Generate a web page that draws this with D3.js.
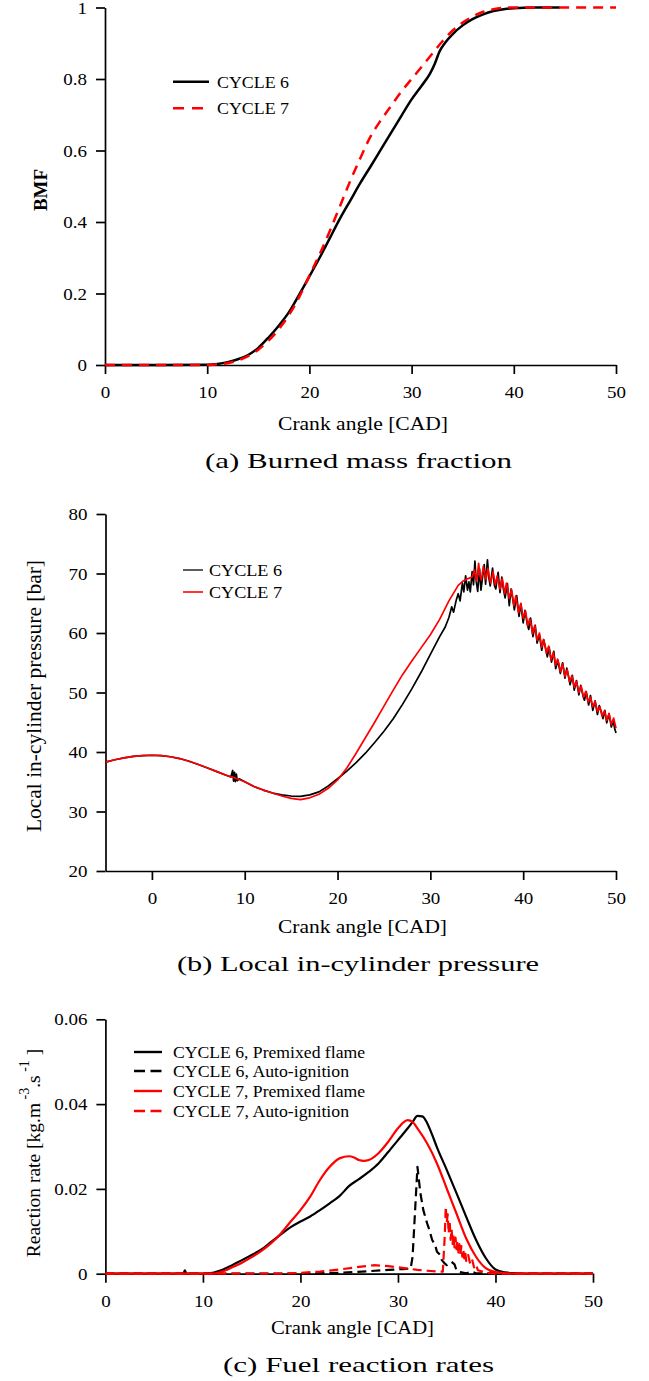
<!DOCTYPE html>
<html><head><meta charset="utf-8">
<script src="https://cdn.jsdelivr.net/npm/d3@7"></script>
<style>html,body{margin:0;padding:0;background:#fff;}svg{display:block;}</style>
</head><body>
<script>
// ---------- DATA ----------
// (a) Burned mass fraction  [crank angle, BMF]
const bmfCycle6 = [[0,0],[5,0],[10,0.001],[11,0.003],[12,0.008],[13,0.016],[14,0.028],[15,0.048],[16,0.077],[17,0.11],[18,0.148],[19,0.197],[20,0.248],[21,0.3],[22,0.355],[23,0.41],[24,0.46],[25,0.51],[26,0.556],[27,0.603],[28,0.65],[29,0.697],[30,0.743],[31,0.782],[31.8,0.815],[32.3,0.845],[32.7,0.875],[33.3,0.902],[34,0.925],[35,0.95],[36,0.968],[37,0.981],[38,0.99],[39,0.995],[40,0.998],[42,1],[44.5,1]];
const bmfCycle7 = [[0,0],[10,0],[11,0.002],[12,0.005],[13,0.013],[14,0.025],[15,0.043],[16,0.068],[17,0.1],[18,0.14],[19,0.19],[20,0.25],[21,0.31],[22,0.375],[23,0.445],[24,0.515],[25,0.58],[26,0.64],[27,0.685],[28,0.725],[29,0.765],[30,0.8],[31,0.835],[32,0.87],[33,0.905],[34,0.935],[35,0.958],[36,0.975],[37,0.988],[38,0.995],[39,0.999],[40,1],[50,1]];
const bmfXTicks = [0,10,20,30,40,50];
const bmfXLabels = ["0","10","20","30","40","50"];
const bmfYTicks = [0,0.2,0.4,0.6,0.8,1];
const bmfYLabels = ["0","0.2","0.4","0.6","0.8","1"];

// (b) Local in-cylinder pressure [crank angle, bar]
const pressureCycle6 = [[-5,38.3],[-4,38.7],[-3,39.0],[-2,39.25],[-1,39.4],[0,39.45],[1,39.4],[2,39.2],[3,38.9],[4,38.45],[5,37.9],[6,37.3],[7,36.7],[8,36.1],[8.5,35.8],[8.7,36.9],[8.8,35.1],[8.9,36.6],[9.0,35.0],[9.1,36.3],[9.2,35.2],[9.4,35.5],[10,35.0],[11,34.2],[12,33.6],[13,33.1],[14,32.8],[15,32.6],[16,32.55],[17,32.8],[18,33.3],[19,34.3],[20,35.5],[21,36.8],[22,38.2],[23,39.8],[24,41.6],[25,43.5],[26,45.6],[27,48.0],[28,50.6],[29,53.4],[30,56.4],[31,59.4],[31.6,61.0],[32,62.6],[32.3,64.4],[32.5,63.5],[32.8,65.6],
[33.0,66.6],[33.2,65.4],[33.45,68.4],[33.6,66.9],[33.8,69.6],[34.0,67.2],[34.15,68.6],[34.3,66.9],[34.5,70.3],[34.65,68.1],[34.8,72.1],[34.95,68.6],[35.1,67.0],[35.3,70.8],[35.45,67.2],[35.6,69.1],[35.8,71.5],[35.95,68.2],[36.15,72.3],[36.3,69.3],[36.45,67.9],[36.7,70.9],[36.9,68.0],[37.05,67.4],[37.3,70.2],[37.5,66.8],[37.7,69.4],[37.85,67.6],[38.05,65.9],[38.3,68.3],[38.5,64.6],[38.7,67.4],[38.9,65.5],[39.05,63.9],[39.3,66.3],[39.55,62.8],[39.75,64.9],[40,61.7],[40.2,63.8],[40.45,61.4],[40.6,60.6],[40.8,62.5],[41.05,59.4],[41.3,61.3],[41.5,58.3],[41.75,59.7],[42,57.1],[42.2,58.9],[42.45,57.2],[42.6,56.0],[42.8,57.6],[43.05,55.1],[43.3,56.9],[43.5,54.0],[43.75,55.4],[44,53.2],[44.25,55.0],[44.5,52.4],[44.7,54.1],[44.9,52.6],[45.05,51.3],[45.3,52.9],[45.5,50.4],[45.75,52.0],[46,49.6],[46.2,51.2],[46.45,49.4],[46.6,48.7],[46.8,50.1],[47.05,47.9],[47.25,49.5],[47.5,47.0],[47.75,48.6],[48,46.3],[48.2,47.8],[48.45,46.6],[48.6,45.6],[48.8,47.0],[49,44.9],[49.25,46.4],[49.5,44.2],[49.7,45.3],[49.85,44.0],[50,43.2]];
const pressureCycle7 = [[-5,38.3],[-4,38.7],[-3,39.0],[-2,39.25],[-1,39.4],[0,39.45],[1,39.4],[2,39.2],[3,38.9],[4,38.45],[5,37.9],[6,37.3],[7,36.7],[8,36.1],[9,35.6],[10,35.0],[11,34.2],[12,33.6],[13,33.1],[14,32.6],[15,32.2],[16,32.0],[17,32.3],[18,32.9],[19,33.9],[20,35.3],[21,37.3],[22,39.8],[23,42.4],[24,45.0],[25,47.7],[26,50.4],[27,53.0],[28,55.3],[29,57.5],[30,59.7],[31,62.3],[32,65.4],[33,68.0],[33.5,68.7],[34,69.1],[34.5,69.4],
[34.75,70.6],[34.9,69.4],[35,68.7],[35.2,71.7],[35.35,69.6],[35.5,68.9],[35.7,71.2],[35.85,70.1],[36,69.0],[36.2,70.9],[36.35,69.4],[36.5,68.4],[36.75,70.3],[37,68.1],[37.2,69.6],[37.35,68.5],[37.5,67.4],[37.75,69.2],[38,66.6],[38.2,68.4],[38.35,67.2],[38.5,65.8],[38.75,67.3],[39,64.6],[39.2,66.2],[39.35,64.9],[39.5,63.4],[39.75,65.0],[40,62.5],[40.25,63.7],[40.5,61.2],[40.7,62.4],[40.85,61.5],[41,59.9],[41.25,61.3],[41.5,58.8],[41.75,60.0],[42,57.6],[42.2,58.9],[42.35,57.9],[42.5,56.6],[42.75,57.8],[43,55.5],[43.25,56.7],[43.5,54.6],[43.7,55.6],[43.85,54.8],[44,53.5],[44.25,54.8],[44.5,52.7],[44.75,53.8],[45,51.8],[45.25,52.8],[45.5,50.9],[45.7,51.9],[45.85,51.1],[46,50.0],[46.25,51.1],[46.5,49.2],[46.75,50.2],[47,48.4],[47.25,49.2],[47.5,47.6],[47.75,48.5],[48,46.8],[48.25,47.6],[48.5,46.0],[48.75,46.9],[49,45.3],[49.25,46.5],[49.5,44.6],[49.75,45.7],[50,44.0]];
const pressureXTicks = [0,10,20,30,40,50];
const pressureXLabels = ["0","10","20","30","40","50"];
const pressureYTicks = [20,30,40,50,60,70,80];
const pressureYLabels = ["20","30","40","50","60","70","80"];

// (c) Fuel reaction rates [crank angle, kg/m3/s]
const rateCycle6Premixed = [[0,0],[8,0],[8.15,0.0008],[8.3,0],[10,0],[11,0.0002],[12,0.0009],[13,0.002],[14,0.0032],[15,0.0044],[16,0.0057],[17,0.0075],[18,0.0093],[19,0.011],[20,0.0123],[21,0.0135],[22,0.015],[23,0.0166],[24,0.0183],[25,0.0207],[26,0.0223],[27,0.024],[28,0.026],[29,0.0287],[30,0.0315],[31,0.0343],[31.5,0.0358],[32,0.0372],[32.5,0.0371],[33,0.0355],[33.5,0.0328],[34,0.0298],[35,0.0245],[36,0.019],[37,0.0134],[38,0.008],[39,0.0037],[40,0.001],[41,0.0003],[42,0.0001],[43,0],[50,0]];
const rateCycle6Auto = [[0,0],[20,0],[24,0.0002],[27,0.0006],[29,0.0009],[30.5,0.0011],[31.3,0.0012],[31.5,0.004],[32,0.0252],[32.3,0.019],[32.6,0.015],[33,0.0118],[33.2,0.0105],[33.5,0.008],[33.8,0.0068],[34,0.0052],[34.3,0.0045],[34.5,0.0032],[34.8,0.0024],[35,0.002],[35.5,0.0028],[35.8,0.0022],[36,0.0008],[36.5,0.0003],[37,0.0001],[37.5,0.0005],[38,0.0001],[39.3,0.0001],[39.6,0.0005],[40,0],[50,0]];
const rateCycle7Premixed = [[0,0],[11,0],[12,0.0005],[13,0.0015],[14,0.0026],[15,0.0039],[16,0.0054],[17,0.0072],[18,0.0095],[19,0.0123],[20,0.015],[21,0.0182],[22,0.0221],[23,0.0252],[24,0.0272],[25,0.0277],[25.5,0.0274],[26,0.0268],[26.5,0.0266],[27,0.0268],[28,0.0284],[29,0.0311],[30,0.0343],[31,0.0362],[31.5,0.0358],[32,0.0343],[33,0.0307],[34,0.026],[35,0.0201],[36,0.0142],[37,0.0083],[38,0.004],[39,0.0013],[40,0.0004],[41,0.0001],[42,0],[50,0]];
const rateCycle7Auto = [[0,0],[18,0],[20,0.0002],[22,0.0005],[24,0.001],[26,0.0016],[27.5,0.002],[29,0.0018],[30,0.0015],[31,0.0012],[32,0.0009],[33,0.0007],[34,0.0005],[34.6,0.0005],[34.8,0.009],[34.9,0.0158],[35.0,0.012],[35.1,0.014],[35.2,0.0095],[35.3,0.0125],[35.4,0.008],[35.5,0.0105],[35.6,0.007],[35.7,0.0092],[35.8,0.0062],[35.9,0.0085],[36.0,0.0058],[36.1,0.0078],[36.2,0.005],[36.3,0.007],[36.4,0.0045],[36.5,0.0065],[36.6,0.004],[36.7,0.0058],[36.8,0.0036],[36.9,0.005],[37.0,0.003],[37.2,0.0044],[37.4,0.0024],[37.6,0.0034],[37.8,0.0015],[38.0,0.0022],[38.2,0.0008],[38.5,0.0006],[39,0.0002],[40,0],[50,0]];
const rateXTicks = [0,10,20,30,40,50];
const rateXLabels = ["0","10","20","30","40","50"];
const rateYTicks = [0,0.02,0.04,0.06];
const rateYLabels = ["0","0.02","0.04","0.06"];

// ---------- DRAWING ----------
const FONT = "'Liberation Serif', 'Times New Roman', serif";
const RED = "#ff0000";
const svg = d3.select("body").append("svg").attr("width",649).attr("height",1381);

function axes(x, y, xTicks, xLabels, yTicks, yLabels) {
  const gx = svg.append("g").attr("transform",`translate(0,${y.range()[0]})`)
    .call(d3.axisBottom(x).tickValues(xTicks).tickFormat((d,i)=>xLabels[i]).tickSize(9).tickSizeOuter(0));
  const gy = svg.append("g").attr("transform",`translate(${x.range()[0]},0)`)
    .call(d3.axisLeft(y).tickValues(yTicks).tickFormat((d,i)=>yLabels[i]).tickSize(9).tickSizeOuter(0));
  [gx,gy].forEach(g=>{
    g.attr("font-family",FONT).attr("font-size",16.5);
    g.select(".domain").attr("stroke","#000").attr("stroke-width",1.7);
    g.selectAll(".tick line").attr("stroke","#000").attr("stroke-width",1.7);
    g.selectAll(".tick text").attr("fill","#000");
  });
  gx.selectAll(".tick text").attr("y",0).attr("dy",0).attr("transform","translate(0,33) scale(1.15,1)");
  gy.selectAll(".tick text").attr("x",0).attr("dy","0.34em").attr("transform","translate(-18,0) scale(1.15,1)");
}

function text(s, x, y, size, len) {
  return svg.append("text").attr("x",x).attr("y",y).attr("font-family",FONT)
    .attr("font-size",size).attr("fill","#000")
    .attr("textLength",len).attr("lengthAdjust","spacingAndGlyphs").text(s);
}
function rotText(s, cx, by, size, len, bold) {
  svg.append("text").attr("transform",`translate(${cx},${by}) rotate(-90)`)
    .attr("x",-len/2).attr("y",0).attr("font-family",FONT).attr("font-size",size)
    .attr("font-weight",bold?"bold":"normal").attr("fill","#000")
    .attr("textLength",len).attr("lengthAdjust","spacingAndGlyphs").text(s);
}
function path(data, x, y, color, width, dash, curve) {
  svg.append("path").datum(data)
    .attr("d", d3.line().x(d=>x(d[0])).y(d=>y(d[1])).curve(curve||d3.curveMonotoneX))
    .attr("fill","none").attr("stroke",color).attr("stroke-width",width)
    .attr("stroke-dasharray",dash||null).attr("stroke-linejoin","round");
}
function legendLine(x1,x2,y,color,width,dash){
  svg.append("line").attr("x1",x1).attr("x2",x2).attr("y1",y).attr("y2",y)
    .attr("stroke",color).attr("stroke-width",width).attr("stroke-dasharray",dash||null);
}

// ----- (a) -----
const xA = d3.scaleLinear().domain([0,50]).range([105,616]);
const yA = d3.scaleLinear().domain([0,1]).range([365,7.5]);
axes(xA,yA,bmfXTicks,bmfXLabels,bmfYTicks,bmfYLabels);
path(bmfCycle6,xA,yA,"#000",2.5);
path(bmfCycle7,xA,yA,RED,2.5,"10,7");
legendLine(173,209,81.7,"#000",2.5);
legendLine(173,209,108.3,RED,2.5,"11,8");
text("CYCLE 6",217,87.5,17,72);
text("CYCLE 7",217,114,17,72);
rotText("BMF",47,190,19,42,true);
text("Crank angle [CAD]",278,430,18,170);
text("(a) Burned mass fraction",205,468,22,307);

// ----- (b) -----
const xB = d3.scaleLinear().domain([-5,50]).range([105.5,616]);
const yB = d3.scaleLinear().domain([20,80]).range([871,514]);
axes(xB,yB,pressureXTicks,pressureXLabels,pressureYTicks,pressureYLabels);
path(pressureCycle6,xB,yB,"#000",1.7,null,d3.curveLinear);
path(pressureCycle7,xB,yB,RED,1.7,null,d3.curveLinear);
legendLine(183,203,570,"#333",1.6);
legendLine(183,203,592,RED,1.6);
text("CYCLE 6",209,575.5,17,73);
text("CYCLE 7",209,597.5,17,73);
rotText("Local in-cylinder pressure [bar]",41,696,20,272,false);
text("Crank angle [CAD]",278,933,18,169);
text("(b) Local in-cylinder pressure",177,971,22,362);

// ----- (c) -----
const xC = d3.scaleLinear().domain([0,50]).range([105.4,593]);
const yC = d3.scaleLinear().domain([0,0.06]).range([1273.7,1019.3]);
axes(xC,yC,rateXTicks,rateXLabels,rateYTicks,rateYLabels);
path(rateCycle6Premixed,xC,yC,"#000",2.2);
path(rateCycle6Auto,xC,yC,"#000",2.2,"9,5",d3.curveLinear);
path(rateCycle7Premixed,xC,yC,RED,2.2);
path(rateCycle7Auto,xC,yC,RED,2.2,"9,5",d3.curveLinear);
legendLine(134,162,1052,"#000",2.4);
legendLine(134,162,1071,"#000",2.4,"11,5.5");
legendLine(134,162,1091,RED,2.4);
legendLine(134,162,1111,RED,2.4,"11,5.5");
text("CYCLE 6, Premixed flame",173,1057.5,16,192);
text("CYCLE 6, Auto-ignition",173,1076.5,16,176);
text("CYCLE 7, Premixed flame",173,1096.5,16,192);
text("CYCLE 7, Auto-ignition",173,1116.5,16,176);
(function(){
  const t = svg.append("text").attr("transform","translate(40,1153) rotate(-90)")
    .attr("text-anchor","middle").attr("font-family",FONT).attr("font-size",19.5).attr("fill","#000");
  t.append("tspan").text("Reaction rate [kg.m");
  t.append("tspan").attr("dy",-11).attr("font-size",14).text(" -3");
  t.append("tspan").attr("dy",11).text(".s");
  t.append("tspan").attr("dy",-11).attr("font-size",14).text(" -1");
  t.append("tspan").attr("dy",11).text(" ]");
})();
text("Crank angle [CAD]",271,1334,18,163);
text("(c) Fuel reaction rates",223,1372,22,271);
</script>
</body></html>
